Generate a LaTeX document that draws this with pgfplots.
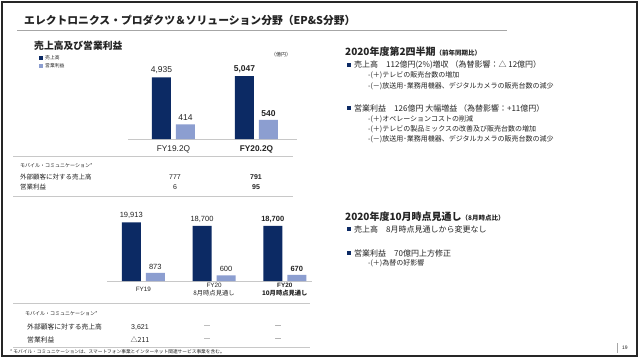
\documentclass[border=0pt]{standalone}
\usepackage{pgfplots}
\pgfplotsset{compat=1.18}
\usepackage{fontspec}
\setmainfont{Noto Sans CJK JP}
\newfontfamily\ar{Liberation Sans}
\definecolor{navy}{RGB}{12,42,100}
\definecolor{lblue}{RGB}{140,158,208}
\definecolor{txt}{RGB}{35,35,35}
\definecolor{sep}{RGB}{200,200,200}
\newcommand\fs[1]{\fontsize{#1}{#1}\selectfont}
\begin{document}
\begin{tikzpicture}[x=1pt,y=1pt,every node/.style={text=txt}]
\path[fill=white] (0,0) rectangle (640,360);
\draw[line width=1.4pt, black!85] (2,4) rectangle (637,358);
% title
\node[anchor=west, inner sep=0, font=\bfseries\fs{10.8}] at (24,360-20) {エレクトロニクス・プロダクツ＆ソリューション分野（EP\&S分野）};
\draw[gray!70, line width=0.6pt] (17,360-30) -- (507,360-30);
% page number
\draw[gray!70, line width=0.5pt] (617,360-343) -- (617,360-353);
\node[anchor=west, inner sep=0, font=\ar\fs{5}] at (622,360-348) {19};

% ===== left top =====
\node[anchor=west, inner sep=0, font=\bfseries\fs{9.8}] at (34,360-46) {売上高及び営業利益};
\fill[navy] (39,360-60) rectangle (43,360-56);
\node[anchor=west, inner sep=0, font=\fs{4.8}] at (45,360-58) {売上高};
\fill[lblue] (39,360-68) rectangle (43,360-64);
\node[anchor=west, inner sep=0, font=\fs{4.8}] at (45,360-66) {営業利益};
\node[anchor=center, inner sep=0, font=\fs{5}] at (281,360-55) {（億円）};

\begin{axis}[at={(128pt,221pt)}, anchor=south west, scale only axis,
  width=169pt, height=70pt, xmin=-0.548, xmax=1.488, ymin=0, ymax=5609,
  axis x line=bottom, axis y line=none, ytick=\empty,
  x axis line style={-, draw=sep, line width=0.8pt},
  xtick={0,1}, xticklabels={FY19.2Q,\textbf{FY20.2Q}}, major tick length=0,
  xticklabel style={font=\ar\fs{8.3}, text=txt, anchor=center, yshift=-10pt},
  ybar, bar width=19pt, bar shift=-12pt,
  nodes near coords, point meta=explicit symbolic,
  nodes near coords style={font=\ar\fs{8.5}, text=txt},
  clip=false]
\addplot[fill=navy, draw=none] coordinates {(0,4935)[{4,935}] (1,5047)[{\textbf{5,047}}]};
\end{axis}
\begin{axis}[at={(128pt,221pt)}, anchor=south west, scale only axis,
  width=169pt, height=70pt, xmin=-0.548, xmax=1.488, ymin=0, ymax=1972,
  hide axis, ybar, bar width=19pt, bar shift=12pt,
  nodes near coords, point meta=explicit symbolic,
  nodes near coords style={font=\ar\fs{8.5}, text=txt},
  clip=false]
\addplot[fill=lblue, draw=none] coordinates {(0,414)[414] (1,540)[{\textbf{540}}]};
\end{axis}

% top table
\draw[sep, line width=0.8pt] (13,360-156) -- (293,360-156);
\node[anchor=west, inner sep=0, font=\fs{5}] at (20,360-166) {モバイル・コミュニケーション*};
\node[anchor=west, inner sep=0, font=\fs{6.5}] at (20,360-177) {外部顧客に対する売上高};
\node[anchor=west, inner sep=0, font=\fs{6.5}] at (20,360-187) {営業利益};
\node[inner sep=0, font=\ar\fs{7}] at (175,360-177) {777};
\node[inner sep=0, font=\ar\fs{7}] at (256,360-177) {\textbf{791}};
\node[inner sep=0, font=\ar\fs{7}] at (175,360-187) {6};
\node[inner sep=0, font=\ar\fs{7}] at (256,360-187) {\textbf{95}};
\draw[sep, line width=0.8pt] (13,360-196) -- (293,360-196);

% ===== left bottom =====
\begin{axis}[at={(107pt,79pt)}, anchor=south west, scale only axis,
  width=205pt, height=70pt, xmin=-0.513, xmax=2.385, ymin=0, ymax=23729,
  axis x line=bottom, axis y line=none, ytick=\empty,
  x axis line style={-, draw=sep, line width=0.8pt},
  xtick={0,1,2}, major tick length=0,
  xticklabels={{\ar FY19}, {{\ar FY20}\\8月時点見通し}, {{\ar\bfseries FY20}\\\bfseries 10月時点見通し}},
  xticklabel style={font=\fontsize{6.3}{7.6}\selectfont, text=txt, anchor=center, yshift=-8.5pt, align=center},
  ybar, bar width=19pt, bar shift=-12pt,
  nodes near coords, point meta=explicit symbolic,
  nodes near coords style={font=\ar\fs{7.5}, text=txt},
  clip=false]
\addplot[fill=navy, draw=none] coordinates {(0,19913)[{19,913}] (1,18700)[{18,700}] (2,18700)[{\textbf{18,700}}]};
\end{axis}
\begin{axis}[at={(107pt,79pt)}, anchor=south west, scale only axis,
  width=205pt, height=70pt, xmin=-0.513, xmax=2.385, ymin=0, ymax=7609,
  hide axis, ybar, bar width=19pt, bar shift=12pt,
  nodes near coords, point meta=explicit symbolic,
  nodes near coords style={font=\ar\fs{7.5}, text=txt},
  clip=false]
\addplot[fill=lblue, draw=none] coordinates {(0,873)[873] (1,600)[600] (2,670)[{\textbf{670}}]};
\end{axis}

% bottom table
\draw[sep, line width=0.8pt] (13,360-303) -- (310,360-303);
\node[anchor=west, inner sep=0, font=\fs{5}] at (25,360-314) {モバイル・コミュニケーション*};
\node[anchor=west, inner sep=0, font=\fs{6.8}] at (27,360-327) {外部顧客に対する売上高};
\node[anchor=west, inner sep=0, font=\fs{6.8}] at (27,360-340) {営業利益};
\node[inner sep=0, font=\ar\fs{7}] at (140,360-327) {3,621};
\node[inner sep=0, font=\fs{7}] at (207,360-327) {―};
\node[inner sep=0, font=\bfseries\fs{7}] at (278,360-327) {―};
\node[inner sep=0, font=\fs{7}] at (140,360-340) {△211};
\node[inner sep=0, font=\fs{7}] at (207,360-340) {―};
\node[inner sep=0, font=\bfseries\fs{7}] at (278,360-340) {―};
\draw[sep, line width=0.8pt] (13,360-347) -- (310,360-347);
\node[anchor=west, inner sep=0, font=\fs{4.7}] at (10,360-352) {* モバイル・コミュニケーションは、スマートフォン事業とインターネット関連サービス事業を含む。};

% ===== right =====
\node[anchor=west, inner sep=0] at (345,360-52) {\bfseries\fs{10}2020年度第2四半期\fs{6.5}（前年同期比）};
\fill[navy] (347,360-67) rectangle (351,360-63);
\node[anchor=west, inner sep=0, font=\fs{8}] at (354,360-65) {売上高　112億円(2\%)増収 （為替影響：△ 12億円）};
\node[anchor=west, inner sep=0, font=\fs{7}] at (368,360-75.5) {-(＋)テレビの販売台数の増加};
\node[anchor=west, inner sep=0, font=\fs{7}] at (368,360-86) {-(－)放送用･業務用機器、デジタルカメラの販売台数の減少};
\fill[navy] (347,360-110) rectangle (351,360-106);
\node[anchor=west, inner sep=0, font=\fs{8}] at (354,360-108) {営業利益　126億円 大幅増益 （為替影響：+11億円）};
\node[anchor=west, inner sep=0, font=\fs{7}] at (368,360-119) {-(＋)オペレーションコストの削減};
\node[anchor=west, inner sep=0, font=\fs{7}] at (368,360-129) {-(＋)テレビの製品ミックスの改善及び販売台数の増加};
\node[anchor=west, inner sep=0, font=\fs{7}] at (368,360-139.5) {-(－)放送用･業務用機器、デジタルカメラの販売台数の減少};

\node[anchor=west, inner sep=0] at (345,360-217) {\bfseries\fs{10}2020年度10月時点見通し\fs{6.5}（8月時点比）};
\fill[navy] (347,360-231) rectangle (351,360-227);
\node[anchor=west, inner sep=0, font=\fs{8}] at (354,360-229) {売上高　8月時点見通しから変更なし};
\fill[navy] (347,360-255) rectangle (351,360-251);
\node[anchor=west, inner sep=0, font=\fs{8}] at (354,360-253) {営業利益　70億円上方修正};
\node[anchor=west, inner sep=0, font=\fs{7}] at (368,360-263) {-(＋)為替の好影響};
\end{tikzpicture}
\end{document}
